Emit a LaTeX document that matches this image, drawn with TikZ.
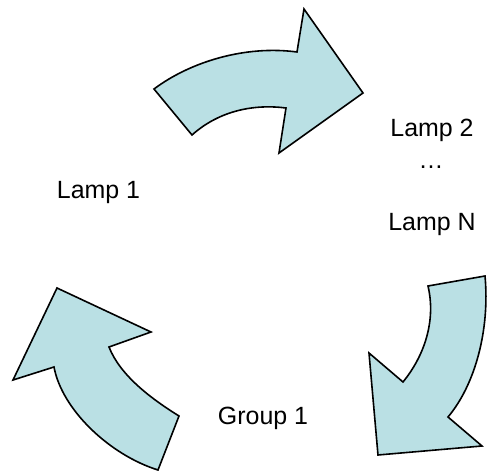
\documentclass[tikz,border=0pt]{standalone}
\usepackage{fontspec}
\setmainfont{Liberation Sans}
\definecolor{arrowfill}{RGB}{186,224,228}
\tikzset{
  bentarrow/.style={fill=arrowfill, draw=black, line width=1.2pt, line join=miter},
  label/.style={font=\fontsize{18.7}{22}\selectfont, anchor=base, inner sep=0pt}
}
\begin{document}
\begin{tikzpicture}[x=0.75pt, y=-0.75pt]
\useasboundingbox (0,0) rectangle (487,474);

% upper arrow, pointing right
\draw[bentarrow] (154,89) .. controls (190,62) and (245,45) .. (297,52)
  -- (304,9) -- (363,93) -- (279,153) -- (286,108)
  .. controls (255,104) and (220,110) .. (192,135) -- cycle;

% right arrow, pointing down-left
\draw[bentarrow] (428,286) -- (485,276)
  .. controls (490,330) and (475,385) .. (448,417)
  -- (482,446) -- (378,455) -- (369,353) -- (403,382)
  .. controls (425,355) and (436,320) .. (428,286) -- cycle;

% left arrow, pointing up-left
\draw[bentarrow] (158,470) -- (179,416)
  .. controls (150,398) and (120,375) .. (109,347)
  -- (151,332) -- (57,288) -- (13,380) -- (54,367)
  .. controls (62,410) and (110,455) .. (158,470) -- cycle;

\node[label] (lamp1)  at (98.5,199) {Lamp 1};
\node[label] (lamp2)  at (432,137)  {Lamp 2};
\node[label] (dots)   at (431,169)  {…};
\node[label] (lampN)  at (432,231)  {Lamp N};
\node[label] (group1) at (263,425)  {Group 1};
\end{tikzpicture}
\end{document}
